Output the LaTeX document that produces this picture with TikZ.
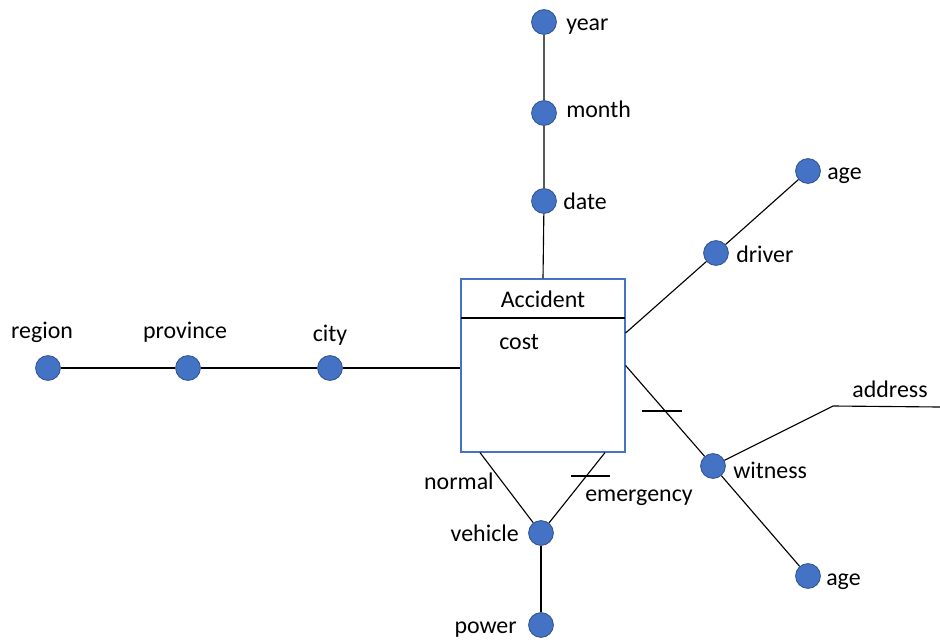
\documentclass[tikz,border=0pt]{standalone}
\usepackage{fontspec}
\setmainfont{Carlito}
\usetikzlibrary{positioning,calc}
\definecolor{dotblue}{RGB}{68,114,196}
\definecolor{dotedge}{RGB}{47,82,143}

\begin{document}
\begin{tikzpicture}[x=0.025cm,y=-0.025cm,
    dot/.style={circle,fill=dotblue,draw=dotedge,line width=0.6pt,minimum size=0.62cm,inner sep=0pt},
    lbl/.style={font=\fontsize{17}{20}\selectfont,inner sep=0pt,text height=12pt,text depth=0pt},
    link/.style={line width=0.8pt}]
  \useasboundingbox (0,0) rectangle (940,639);
  {

  % Drawing fact box Accident
  \node [draw=dotblue,line width=0.8pt,minimum width=4.1cm,minimum height=4.325cm,inner sep=0pt] (accident) at (543,365.5) {};
  \draw [link] (461,318) -- (625,318);
  \node [lbl] (accidentname) at (543,299) {Accident};
  \node [lbl,anchor=west] (cost) at (499,341) {cost};

  % Marking points of time
  \node [dot] (year) at (544,22) {};
  \node [dot] (month) at (544,113) {};
  \node [dot] (date) at (544,201) {};
  \node [lbl,anchor=west] (yearname) at (566,22) {year};
  \node [lbl,anchor=west] (monthname) at (566,109) {month};
  \node [lbl,anchor=west] (datename) at (563,201) {date};

  % Marking points of place
  \node [dot] (region) at (48,368) {};
  \node [dot] (province) at (188,368) {};
  \node [dot] (city) at (330,368) {};
  \node [lbl] (regionname) at (42,330) {region};
  \node [lbl] (provincename) at (185,330) {province};
  \node [lbl] (cityname) at (330,333) {city};

  % Marking points of driver
  \node [dot] (driver) at (716,253) {};
  \node [dot] (driverage) at (808,171) {};
  \node [lbl,anchor=west] (drivername) at (736,254) {driver};
  \node [lbl,anchor=west] (driveragename) at (827,171) {age};

  % Marking points of witness
  \node [dot] (witness) at (713,466) {};
  \node [dot] (witnessage) at (808,576) {};
  \coordinate (bend) at (833,406);
  \coordinate (addressend) at (940,407);
  \node [lbl,anchor=west] (witnessname) at (733,470) {witness};
  \node [lbl,anchor=west] (witnessagename) at (826,577) {age};
  \node [lbl] (addressname) at (890,389) {address};

  % Marking points of vehicle
  \node [dot] (vehicle) at (541,533) {};
  \node [dot] (power) at (541,625) {};
  \node [lbl,anchor=east] (vehiclename) at (519,533) {vehicle};
  \node [lbl,anchor=east] (powername) at (517,625) {power};
  \node [lbl,anchor=east] (normalname) at (494,481) {normal};
  \node [lbl,anchor=west] (emergencyname) at (585,493) {emergency};

  % Drawing links
  \draw [link] (year) -- (month) -- (date) -- (accident.north);
  \draw [link] (region) -- (province) -- (city) -- (accident.west |- city);
  \draw [link] (accident.east |- 0,333) -- (driver) -- (driverage);
  \draw [link] (accident.east) -- (witness) -- (witnessage);
  \draw [link] (witness) -- (bend) -- (addressend);
  \draw [link] (accident.south -| 480,0) -- (vehicle);
  \draw [link] (accident.south -| 605,0) -- (vehicle);
  \draw [link] (vehicle) -- (power);

  % Drawing ticks
  \draw [link] (642,411) -- (682,411);
  \draw [link] (571,476) -- (610,476);
  }
\end{tikzpicture}
\end{document}
